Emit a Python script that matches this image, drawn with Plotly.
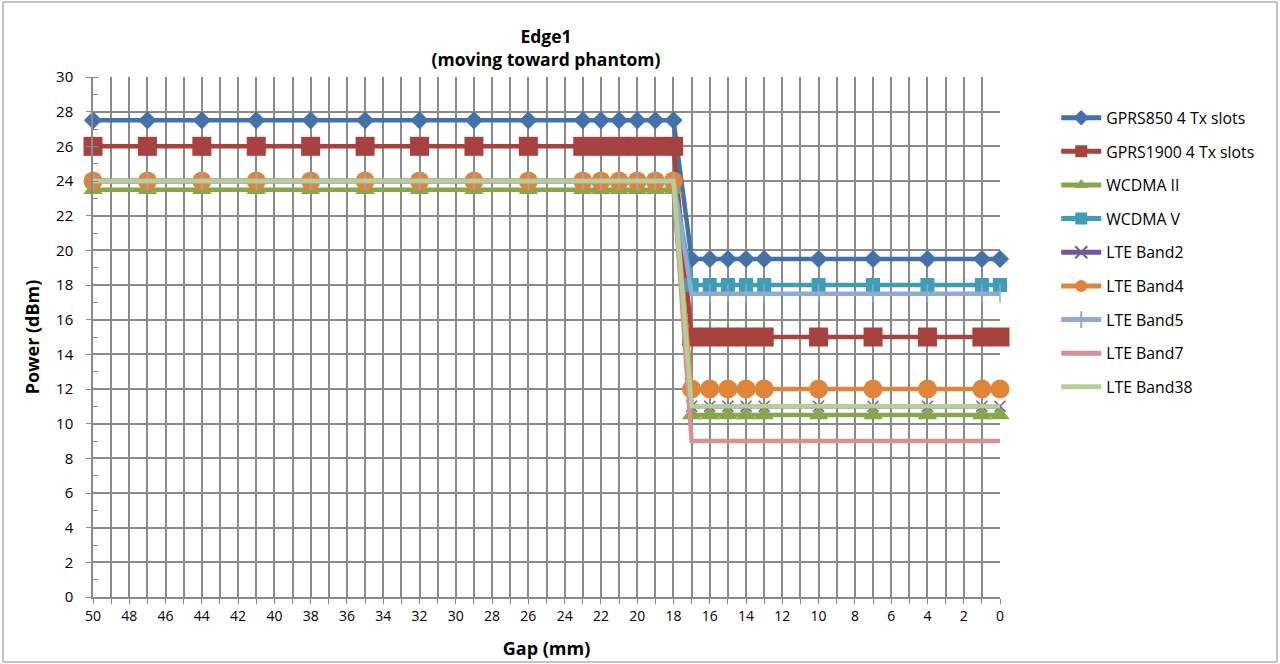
import plotly.graph_objects as go

gap = [50, 47, 44, 41, 38, 35, 32, 29, 26, 23, 22, 21, 20, 19, 18,
       17, 16, 15, 14, 13, 10, 7, 4, 1, 0]

gprs850 = [27.5] * 15 + [19.5] * 10
gprs1900 = [26] * 15 + [15] * 10
wcdma2 = [23.5] * 15 + [10.5] * 10
wcdma5 = [24] * 15 + [18] * 10
lte2 = [24] * 15 + [11] * 10
lte4 = [24] * 15 + [12] * 10
lte5 = [24] * 15 + [17.5] * 10
lte7 = [24] * 15 + [9] * 10
lte38 = [24] * 15 + [11] * 10

names = ["GPRS850 4 Tx slots", "GPRS1900 4 Tx slots", "WCDMA II", "WCDMA V",
         "LTE Band2", "LTE Band4", "LTE Band5", "LTE Band7", "LTE Band38"]
values = [gprs850, gprs1900, wcdma2, wcdma5, lte2, lte4, lte5, lte7, lte38]
colors = ["#4472A8", "#A8423F", "#86A84A", "#3F9DB5", "#71589C",
          "#E0843A", "#8FAAD3", "#D69292", "#B5CF98"]
symbols = ["diamond", "square", "triangle-up", "square", "x-thin",
           "circle", "line-ns", None, None]
sizes = [14, 19, 17, 14, 11, 19, 13, 0, 0]

FONT = "Open Sans, Liberation Sans, sans-serif"
GRID = "#8A8A8A"

fig = go.Figure()
for i, (n, v, c, s, sz) in enumerate(zip(names, values, colors, symbols, sizes)):
    if s is None:
        mode = "lines"
        marker = None
    else:
        mode = "lines+markers"
        if s in ("x-thin", "line-ns"):
            marker = dict(symbol=s, size=sz, line=dict(color=c, width=1.5), color=c)
        else:
            marker = dict(symbol=s, size=sz, color=c, line=dict(width=0))
    fig.add_trace(go.Scatter(
        x=gap, y=v, name=n, mode=mode, marker=marker,
        line=dict(color=c, width=4.5), cliponaxis=False,
        legendgroup=f"g{i}", hoverinfo="skip"))

fig.update_layout(
    width=1280, height=664,
    margin=dict(l=93, r=280, t=77, b=67),
    paper_bgcolor="white", plot_bgcolor="white",
    font=dict(family=FONT, color="black", size=14),
    title=dict(text="<b>Edge1<br>(moving toward phantom)</b>", x=(546 / 1280), xanchor="center",
               y=1 - 43 / 664, yanchor="top", font=dict(size=17.5, family=FONT)),
    showlegend=True,
    legend=dict(x=1.062, xanchor="left", y=0.954, yanchor="top",
                font=dict(size=15.8, family=FONT), tracegroupgap=10.1,
                itemwidth=40, itemsizing="constant", bgcolor="rgba(0,0,0,0)"),
    xaxis=dict(range=[50, 0], dtick=2, tick0=0, showgrid=True, automargin=False,
               gridcolor=GRID, gridwidth=1.5,
               showline=True, linecolor=GRID, linewidth=1.5,
               ticks="outside", ticklen=5, tickcolor=GRID,
               tickfont=dict(size=14, family=FONT), zeroline=False,
               minor=dict(dtick=1, showgrid=True, gridcolor=GRID, gridwidth=1.5,
                          ticks="outside", ticklen=5, tickcolor=GRID),
               title=dict(text="<b>Gap (mm)</b>", font=dict(size=18, family=FONT), standoff=19)),
    yaxis=dict(range=[0, 30], dtick=2, showgrid=True, automargin=False,
               gridcolor=GRID, gridwidth=1.5,
               showline=True, linecolor=GRID, linewidth=1.5,
               ticks="outside", ticklen=5, tickcolor=GRID, ticklabelstandoff=10,
               tickfont=dict(size=15, family=FONT), zeroline=False,
               minor=dict(dtick=1, ticks="inside", ticklen=5, tickcolor=GRID, showgrid=False),
               title=dict(text="<b>Power (dBm)</b>", font=dict(size=18, family=FONT), standoff=12)),
)

fig.add_shape(type="rect", xref="paper", yref="paper",
              x0=(3 - 93) / 907, x1=(1277 - 93) / 907,
              y0=(597 - 662) / 520, y1=(597 - 2) / 520,
              line=dict(color=GRID, width=1), fillcolor="rgba(0,0,0,0)", layer="below")

fig.write_html("out.html", config={"displayModeBar": False},
               post_script="document.body.style.margin='0';")
